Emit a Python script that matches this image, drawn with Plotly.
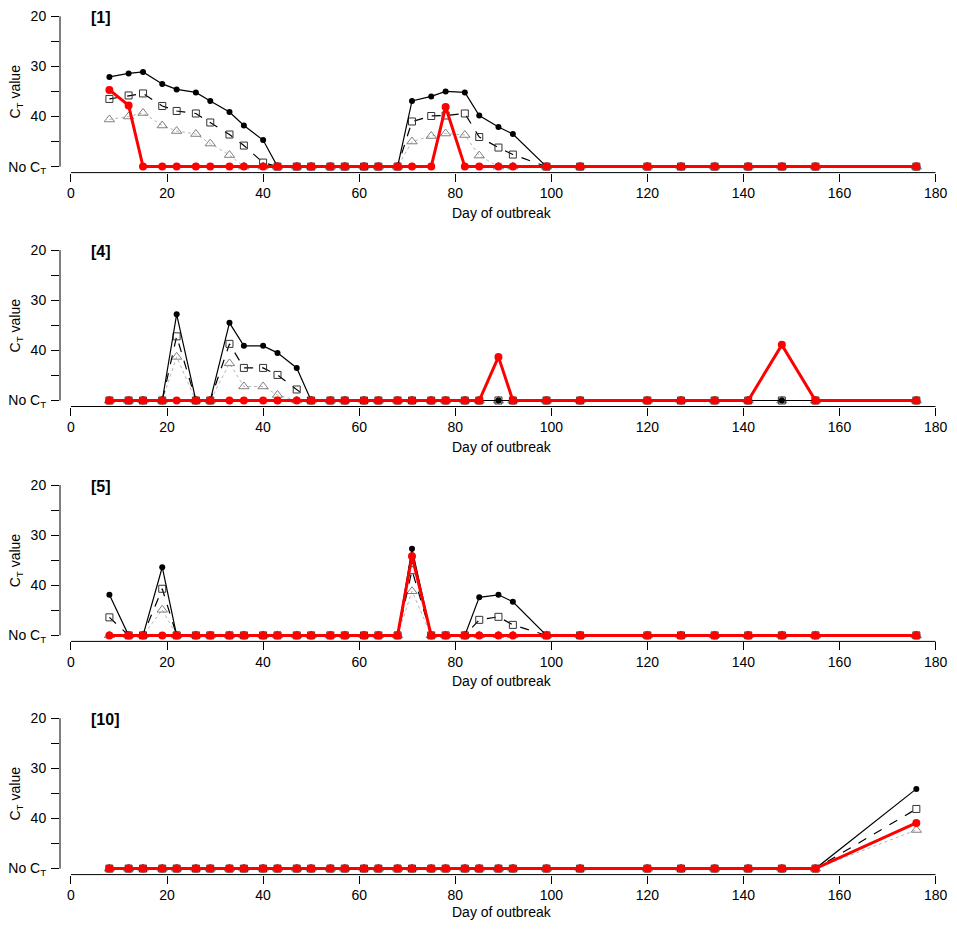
import plotly.graph_objects as go
from plotly.subplots import make_subplots

# sampling days (x) shared by every panel
days = [8, 12, 15, 19, 22, 26, 29, 33, 36, 40, 43, 47, 50, 54, 57, 61, 64,
        68, 71, 75, 78, 82, 85, 89, 92, 99, 106, 120, 127, 134, 141, 148, 155, 176]

NC = 50  # "No CT" is drawn at 50 on the reversed axis

panel_labels = ["[1]", "[4]", "[5]", "[10]"]

# panel [1]
p1_black = [32.1, 31.4, 31.1, 33.5, 34.6, 35.2, 36.9, 39.1, 41.8, 44.7,
            NC, NC, NC, NC, NC, NC, NC, NC,
            36.9, 36.0, 35.0, 35.2, 39.8, 42.1, 43.5,
            NC, NC, NC, NC, NC, NC, NC, NC, NC]
p1_square = [36.5, 35.8, 35.4, 37.9, 38.9, 39.4, 41.2, 43.6, 45.8, 49.2,
             NC, NC, NC, NC, NC, NC, NC, NC,
             41.0, 39.9, 39.8, 39.4, 44.1, 46.2, 47.6,
             NC, NC, NC, NC, NC, NC, NC, NC, NC]
p1_tri = [40.6, 40.0, 39.3, 41.8, 42.9, 43.5, 45.4, 47.7, NC, NC,
          NC, NC, NC, NC, NC, NC, NC, NC,
          45.0, 43.9, 43.4, 43.7, 47.8, NC, NC,
          NC, NC, NC, NC, NC, NC, NC, NC, NC]
p1_red = [34.7, 37.8, NC, NC, NC, NC, NC, NC, NC, NC,
          NC, NC, NC, NC, NC, NC, NC, NC,
          NC, NC, 38.1, NC, NC, NC, NC,
          NC, NC, NC, NC, NC, NC, NC, NC, NC]

# panel [4]
p2_black = [NC, NC, NC, NC, 32.8, NC, NC, 34.5, 39.1, 39.1, 40.5, 43.5] + [NC] * 22
p2_square = [NC, NC, NC, NC, 37.2, NC, NC, 38.7, 43.5, 43.5, 44.9, 47.8] + [NC] * 22
p2_tri = [NC, NC, NC, NC, 41.3, NC, NC, 42.6, 47.2, 47.2, 48.9, NC] + [NC] * 22
p2_red = [NC] * 23 + [41.3] + [NC] * 7 + [38.9] + [NC] * 2

# panel [5]
p3_black = [41.9, NC, NC, 36.4] + [NC] * 14 + [32.7, NC, NC, NC, 42.4, 41.9, 43.3] + [NC] * 9
p3_square = [46.4, NC, NC, 40.7] + [NC] * 14 + [37.0, NC, NC, NC, 46.9, 46.3, 47.9] + [NC] * 9
p3_tri = [NC, NC, NC, 44.9] + [NC] * 14 + [41.2, NC, NC, NC, NC, NC, NC] + [NC] * 9
p3_red = [NC] * 18 + [34.2] + [NC] * 15

# panel [10]
p4_black = [NC] * 33 + [34.1]
p4_square = [NC] * 33 + [38.1]
p4_tri = [NC] * 33 + [42.3]
p4_red = [NC] * 33 + [40.9]

panels = [
    (p1_black, p1_square, p1_tri, p1_red),
    (p2_black, p2_square, p2_tri, p2_red),
    (p3_black, p3_square, p3_tri, p3_red),
    (p4_black, p4_square, p4_tri, p4_red),
]

# the page body adds an 8px margin, so the figure is shrunk and shifted by it
OFF = 8
W, H = 957 - OFF, 931 - 2 * OFF - 1
L, R = 58 - OFF, 14
PPU = 5.05  # pixels per CT unit
Y_TOP, Y_BOT = 19.0, 51.2
y20_page = [13.3, 249.0, 485.7, 720.7]  # where the "20" tick sits on the page
title_shift = [-40, -40, -40, -37]

font = dict(family="Liberation Sans, Arial, sans-serif", size=14, color="black")

fig = make_subplots(rows=4, cols=1)

for i, (black, square, tri, red) in enumerate(panels):
    row = i + 1
    fig.add_trace(go.Scatter(
        x=days, y=tri, mode="lines+markers",
        line=dict(color="#b5b5b5", width=1, dash="dot"),
        marker=dict(symbol="triangle-up-open", size=9, color="#808080", line=dict(width=1)),
        showlegend=False), row=row, col=1)
    fig.add_trace(go.Scatter(
        x=days, y=square, mode="lines+markers",
        line=dict(color="black", width=1.2, dash="dash"),
        marker=dict(symbol="square-open", size=7, color="#333333", line=dict(width=1)),
        showlegend=False), row=row, col=1)
    fig.add_trace(go.Scatter(
        x=days, y=black, mode="lines+markers",
        line=dict(color="black", width=1.2),
        marker=dict(symbol="circle", size=6, color="black"),
        showlegend=False), row=row, col=1)
    fig.add_trace(go.Scatter(
        x=days, y=red, mode="lines+markers",
        line=dict(color="#ff0000", width=3),
        marker=dict(symbol="circle", size=8, color="#ff0000"),
        showlegend=False), row=row, col=1)

    top = y20_page[i] - (20 - Y_TOP) * PPU - OFF
    bottom = y20_page[i] + (Y_BOT - 20) * PPU - OFF
    xa = "xaxis" if i == 0 else f"xaxis{row}"
    ya = "yaxis" if i == 0 else f"yaxis{row}"
    xr = "x" if i == 0 else f"x{row}"
    yr = "y" if i == 0 else f"y{row}"
    fig.layout[ya].update(
        domain=[max(0, 1 - bottom / H), min(1, 1 - top / H)],
        range=[Y_BOT, Y_TOP],
        tickmode="array",
        tickvals=[20, 30, 40, 50],
        ticktext=["20", "30", "40", "No C<sub>T</sub>"],
        ticks="outside", ticklen=8, tickcolor="black", tickwidth=1,
        minor=dict(tickmode="array", tickvals=[25, 35, 45], ticks="outside",
                   ticklen=8, tickcolor="black", tickwidth=1),
        showgrid=False, zeroline=False, showline=False,
        ticklabelstandoff=2, ticklabeloverflow="allow", tickfont=font,
    )
    fig.layout[xa].update(
        range=[-2.285, 181.55],
        tickmode="array",
        tickvals=[0, 20, 40, 60, 80, 100, 120, 140, 160, 180],
        ticks="outside", ticklen=8, tickcolor="black", tickwidth=1,
        showgrid=False, zeroline=False, showline=False,
        ticklabeloverflow="allow", tickfont=font,
    )
    # R-style axis lines that only span the tick range
    fig.add_shape(type="line", xref=xr, yref=f"{yr} domain", x0=0, x1=180, y0=0, y1=0,
                  line=dict(color="black", width=1))
    fig.add_shape(type="line", xref=f"{xr} domain", yref=yr, x0=0, x1=0, y0=20, y1=50,
                  line=dict(color="black", width=1))

    fig.add_annotation(text="<b>" + panel_labels[i] + "</b>", xref=xr, yref=yr,
                       x=3.7, y=20.3, xanchor="left", yanchor="middle", showarrow=False,
                       font=dict(family=font["family"], size=16, color="black"))
    plot_w = W - L - R
    fig.add_annotation(text="C<sub>T</sub> value", xref="paper", yref=yr,
                       x=(6 - L) / plot_w, y=35, textangle=-90,
                       xanchor="center", yanchor="middle",
                       showarrow=False, font=font)
    fig.add_annotation(text="Day of outbreak", xref=f"{xr} domain", yref=f"{yr} domain",
                       x=0.5, y=0, yshift=title_shift[i], xanchor="center", yanchor="middle",
                       showarrow=False, font=font)

fig.update_layout(
    width=W, height=H,
    margin=dict(l=L, r=R, t=0, b=0),
    plot_bgcolor="white", paper_bgcolor="white",
    font=font,
)

fig.write_html("out.html")
